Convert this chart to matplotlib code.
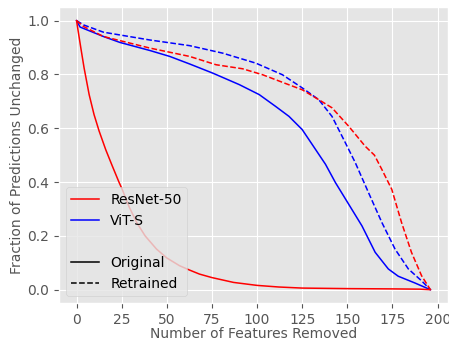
import matplotlib
matplotlib.use("Agg")
import matplotlib.pyplot as plt
from matplotlib.lines import Line2D

plt.style.use("ggplot")

# ResNet-50, original
rn_orig_x = [0, 2.4, 4.2, 7, 9.7, 12.5, 16.2, 19.8, 23.5, 25.3, 29, 33.3, 38, 44.3, 50, 57.1,
             62.6, 68.1, 75, 87, 100, 112, 125, 150, 175, 190, 196]
rn_orig_y = [1.0, 0.898, 0.824, 0.725, 0.651, 0.59, 0.52, 0.46, 0.40, 0.373, 0.31, 0.25,
             0.2, 0.151, 0.118, 0.089, 0.073, 0.058, 0.045, 0.027, 0.016, 0.01, 0.006, 0.004,
             0.003, 0.002, 0.0]

# ResNet-50, retrained
rn_re_x = [0, 3.9, 14.9, 40.6, 62.6, 77.3, 92, 103, 115.9, 125, 134.2, 141.5, 150.8, 159.9,
           165, 169.1, 174.6, 180, 185.5, 191.1, 196]
rn_re_y = [1.0, 0.978, 0.941, 0.898, 0.867, 0.836, 0.821, 0.799, 0.766, 0.743, 0.706, 0.676,
           0.607, 0.533, 0.5, 0.447, 0.373, 0.25, 0.139, 0.052, 0.0]

# ViT-S, original
vit_orig_x = [0, 2, 14.9, 24, 40.6, 51.6, 62.6, 75.4, 90.2, 101.2, 110.3, 117.7, 125, 130.5,
              137.9, 143.4, 150.8, 158.1, 165.4, 172.7, 178.2, 187.4, 196]
vit_orig_y = [1.0, 0.976, 0.941, 0.919, 0.889, 0.867, 0.839, 0.805, 0.762, 0.725, 0.681, 0.644,
              0.595, 0.54, 0.466, 0.398, 0.317, 0.237, 0.139, 0.077, 0.05, 0.025, 0.0]

# ViT-S, retrained
vit_re_x = [0, 3.9, 14.9, 40.6, 62.6, 81, 99.3, 114, 125, 134.2, 141.5, 148.9, 154.4, 161.7,
            169.1, 176.4, 183.8, 191.1, 196]
vit_re_y = [1.0, 0.984, 0.957, 0.928, 0.907, 0.879, 0.842, 0.799, 0.75, 0.706, 0.644, 0.546,
            0.472, 0.361, 0.25, 0.151, 0.077, 0.033, 0.0]

fig = plt.figure(figsize=(4.49, 3.41), dpi=100)
ax = fig.add_subplot(111)

lw = 1.1
ax.plot(vit_orig_x, vit_orig_y, color="blue", lw=lw)
ax.plot(vit_re_x, vit_re_y, color="blue", lw=lw, ls="--")
ax.plot(rn_orig_x, rn_orig_y, color="red", lw=lw)
ax.plot(rn_re_x, rn_re_y, color="red", lw=lw, ls="--")

ax.set_xlabel("Number of Features Removed", fontsize=10, labelpad=0)
ax.set_ylabel("Fraction of Predictions Unchanged", fontsize=10, labelpad=2)
ax.set_xticks([0, 25, 50, 75, 100, 125, 150, 175, 200])
ax.set_yticks([0.0, 0.2, 0.4, 0.6, 0.8, 1.0])
ax.tick_params(labelsize=10)

handles = [
    Line2D([], [], color="red", lw=lw),
    Line2D([], [], color="blue", lw=lw),
    Line2D([], [], color="none"),
    Line2D([], [], color="black", lw=lw),
    Line2D([], [], color="black", lw=lw, ls="--"),
]
labels = ["ResNet-50", "ViT-S", "", "Original", "Retrained"]
ax.legend(handles, labels, loc="lower left", fontsize=10)

fig.subplots_adjust(left=0.131, right=0.998, top=0.979, bottom=0.111)
fig.savefig("out.png", dpi=100)
